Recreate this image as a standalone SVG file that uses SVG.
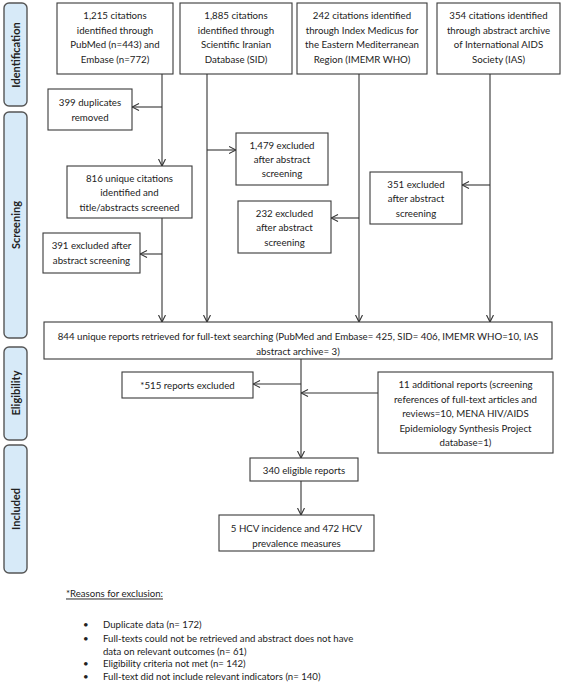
<svg xmlns="http://www.w3.org/2000/svg" width="565" height="685" viewBox="0 0 565 685">
<style>
.bg{fill:#ffffff}
.box{fill:#ffffff;stroke:#3a3a3a;stroke-width:1.1}
.side{fill:#d7eaf8;stroke:#555;stroke-width:1.4}
.t{font-family:Lato,"Liberation Sans",sans-serif;font-size:9.7px;fill:#222;text-anchor:middle;dominant-baseline:central}
.s{font-family:Lato,"Liberation Sans",sans-serif;font-size:11px;font-weight:bold;fill:#222;text-anchor:middle;dominant-baseline:central}
.n{font-family:Lato,"Liberation Sans",sans-serif;font-size:9.6px;fill:#222;dominant-baseline:central}
.ln{fill:none;stroke:#333;stroke-width:1.1}
</style>
<defs>
<marker id="arr" markerUnits="userSpaceOnUse" viewBox="0 0 8 8" refX="7.5" refY="4" markerWidth="8" markerHeight="8" orient="auto">
<path d="M0.5,0.5 L7.5,4 L0.5,7.5" fill="none" stroke="#333" stroke-width="1.1"/>
</marker>
</defs>
<rect class="bg" x="0" y="0" width="565" height="685"/>

<g id="phase-identification">
<rect class="side" x="4" y="3" width="23" height="103" rx="5"/>
<text class="s" transform="translate(15.5,55) rotate(-90)">Identification</text>
</g>
<g id="phase-screening">
<rect class="side" x="4" y="112" width="23" height="226" rx="5"/>
<text class="s" transform="translate(15.5,225) rotate(-90)">Screening</text>
</g>
<g id="phase-eligibility">
<rect class="side" x="4" y="347" width="23" height="93" rx="5"/>
<text class="s" transform="translate(15.5,393) rotate(-90)">Eligibility</text>
</g>
<g id="phase-included">
<rect class="side" x="4" y="445" width="23" height="128" rx="5"/>
<text class="s" transform="translate(15.5,509) rotate(-90)">Included</text>
</g>

<g id="connectors">
<line class="ln" x1="162" y1="74" x2="162" y2="166" marker-end="url(#arr)"/>
<line class="ln" x1="162" y1="107" x2="132" y2="107" marker-end="url(#arr)"/>
<line class="ln" x1="162" y1="218" x2="162" y2="322" marker-end="url(#arr)"/>
<line class="ln" x1="162" y1="254" x2="140" y2="254" marker-end="url(#arr)"/>
<line class="ln" x1="207" y1="74" x2="207" y2="322" marker-end="url(#arr)"/>
<line class="ln" x1="207" y1="150" x2="236" y2="150" marker-end="url(#arr)"/>
<line class="ln" x1="359" y1="74" x2="359" y2="322" marker-end="url(#arr)"/>
<line class="ln" x1="359" y1="218" x2="331" y2="218" marker-end="url(#arr)"/>
<line class="ln" x1="490" y1="74" x2="490" y2="322" marker-end="url(#arr)"/>
<line class="ln" x1="490" y1="185" x2="462" y2="185" marker-end="url(#arr)"/>
<line class="ln" x1="301" y1="359" x2="301" y2="458" marker-end="url(#arr)"/>
<line class="ln" x1="301" y1="384" x2="253" y2="384" marker-end="url(#arr)"/>
<line class="ln" x1="378" y1="393" x2="301" y2="393" marker-end="url(#arr)"/>
<line class="ln" x1="301" y1="481" x2="301" y2="515" marker-end="url(#arr)"/>
</g>

<g id="pubmed">
<rect class="box" x="57" y="3" width="116" height="71"/>
<text class="t" x="115" y="15">1,215 citations</text>
<text class="t" x="115" y="29.5">identified through</text>
<text class="t" x="115" y="44">PubMed (n=443) and</text>
<text class="t" x="115" y="58.5">Embase (n=772)</text>
</g>
<g id="sid">
<rect class="box" x="180" y="3" width="112" height="71"/>
<text class="t" x="236" y="15">1,885 citations</text>
<text class="t" x="236" y="29.5">identified through</text>
<text class="t" x="236" y="44">Scientific Iranian</text>
<text class="t" x="236" y="58.5">Database (SID)</text>
</g>
<g id="imemr">
<rect class="box" x="297" y="3" width="130" height="71"/>
<text class="t" x="362" y="15">242 citations identified</text>
<text class="t" x="362" y="29.5">through Index Medicus for</text>
<text class="t" x="362" y="44">the Eastern Mediterranean</text>
<text class="t" x="362" y="58.5">Region (IMEMR WHO)</text>
</g>
<g id="ias">
<rect class="box" x="437" y="3" width="123" height="71"/>
<text class="t" x="498.5" y="15">354 citations identified</text>
<text class="t" x="498.5" y="29.5">through abstract archive</text>
<text class="t" x="498.5" y="44">of International AIDS</text>
<text class="t" x="498.5" y="58.5">Society (IAS)</text>
</g>
<g id="duplicates">
<rect class="box" x="48" y="89" width="84" height="41"/>
<text class="t" x="90" y="102">399 duplicates</text>
<text class="t" x="90" y="116.5">removed</text>
</g>
<g id="excl1479">
<rect class="box" x="236" y="133" width="92" height="52"/>
<text class="t" x="282" y="145">1,479 excluded</text>
<text class="t" x="282" y="159">after abstract</text>
<text class="t" x="282" y="173">screening</text>
</g>
<g id="excl232">
<rect class="box" x="238" y="201" width="93" height="52"/>
<text class="t" x="284.5" y="212.5">232 excluded</text>
<text class="t" x="284.5" y="227">after abstract</text>
<text class="t" x="284.5" y="241.5">screening</text>
</g>
<g id="excl351">
<rect class="box" x="370" y="172" width="92" height="52"/>
<text class="t" x="416" y="183.5">351 excluded</text>
<text class="t" x="416" y="198">after abstract</text>
<text class="t" x="416" y="212.5">screening</text>
</g>
<g id="unique816">
<rect class="box" x="67" y="166" width="125" height="52"/>
<text class="t" x="129.5" y="177.5">816 unique citations</text>
<text class="t" x="129.5" y="192">identified and</text>
<text class="t" x="129.5" y="206.5">title/abstracts screened</text>
</g>
<g id="excl391">
<rect class="box" x="43" y="233" width="97" height="40"/>
<text class="t" x="91.5" y="245">391 excluded after</text>
<text class="t" x="91.5" y="259.5">abstract screening</text>
</g>
<g id="reports844">
<rect class="box" x="44" y="322" width="508" height="37"/>
<text class="t" x="298" y="336">844 unique reports retrieved for full-text searching (PubMed and Embase= 425, SID= 406, IMEMR WHO=10, IAS</text>
<text class="t" x="298" y="350.5">abstract archive= 3)</text>
</g>
<g id="excl515">
<rect class="box" x="122" y="372" width="131" height="26"/>
<text class="t" x="187.5" y="384.5">*515 reports excluded</text>
</g>
<g id="additional11">
<rect class="box" x="378" y="372" width="175" height="81"/>
<text class="t" x="465.5" y="384">11 additional reports (screening</text>
<text class="t" x="465.5" y="398.5">references of full-text articles and</text>
<text class="t" x="465.5" y="413">reviews=10, MENA HIV/AIDS</text>
<text class="t" x="465.5" y="427.5">Epidemiology Synthesis Project</text>
<text class="t" x="465.5" y="442">database=1)</text>
</g>
<g id="eligible340">
<rect class="box" x="250" y="458" width="108" height="23"/>
<text class="t" x="304" y="470">340 eligible reports</text>
</g>
<g id="measures">
<rect class="box" x="219" y="515" width="155" height="36"/>
<text class="t" x="296.5" y="528">5 HCV incidence and 472 HCV</text>
<text class="t" x="296.5" y="542.5">prevalence measures</text>
</g>

<g id="reasons">
<text class="n" x="66" y="593" text-decoration="underline">*Reasons for exclusion:</text>
<text class="n" x="83" y="624">•</text>
<text class="n" x="103" y="624">Duplicate data (n= 172)</text>
<text class="n" x="83" y="638">•</text>
<text class="n" x="103" y="638">Full-texts could not be retrieved and abstract does not have</text>
<text class="n" x="103" y="651">data on relevant outcomes (n= 61)</text>
<text class="n" x="83" y="663.5">•</text>
<text class="n" x="103" y="663.5">Eligibility criteria not met (n= 142)</text>
<text class="n" x="83" y="676.5">•</text>
<text class="n" x="103" y="676.5">Full-text did not include relevant indicators (n= 140)</text>
</g>
</svg>
